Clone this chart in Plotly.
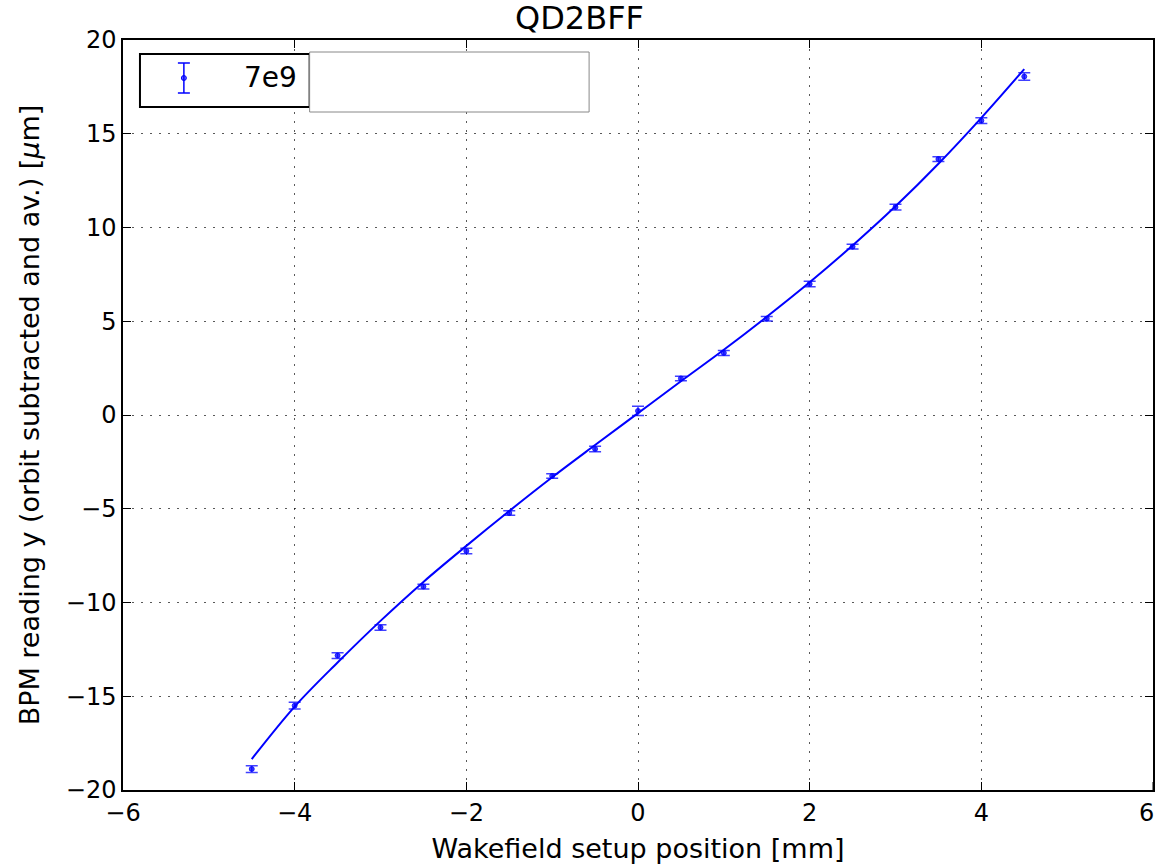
import plotly.graph_objects as go

# Measured BPM response vs. wakefield setup position
positions = [-4.5, -4.0, -3.5, -3.0, -2.5, -2.0, -1.5, -1.0, -0.5, 0.0,
             0.5, 1.0, 1.5, 2.0, 2.5, 3.0, 3.5, 4.0, 4.5]
bpm_y = [-18.88, -15.50, -12.83, -11.33, -9.15, -7.25, -5.23, -3.25, -1.81, 0.22,
         1.95, 3.31, 5.14, 6.99, 8.98, 11.09, 13.65, 15.70, 18.05]
bpm_err = [0.18, 0.18, 0.15, 0.15, 0.13, 0.15, 0.12, 0.12, 0.15, 0.25,
           0.12, 0.13, 0.12, 0.15, 0.13, 0.15, 0.13, 0.15, 0.2]

# Fitted curve sampled at the same positions
fit_x = positions
fit_y = [-18.35, -15.55, -13.2, -10.98, -8.9, -6.98, -5.12, -3.32, -1.6, 0.1,
         1.8, 3.48, 5.24, 7.08, 9.04, 11.13, 13.4, 15.85, 18.45]

x_ticks = [-6, -4, -2, 0, 2, 4, 6]
y_ticks = [-20, -15, -10, -5, 0, 5, 10, 15, 20]

legend_label = "7e9"
title = "QD2BFF"
x_title = "Wakefield setup position [mm]"
y_title = "BPM reading y (orbit subtracted and av.) [<i>μ</i>m]"

W, H = 1159, 865
L, R, T, B = 123, 4, 40, 75
pw, ph = W - L - R, H - T - B


def px(x):
    return (x - L) / pw


def py(y):
    return (H - B - y) / ph


fig = go.Figure()
fig.add_trace(go.Scatter(
    x=fit_x, y=fit_y, mode="lines", line=dict(color="#0000ff", width=2, shape="spline"),
    showlegend=False, hoverinfo="skip"))
fig.add_trace(go.Scatter(
    x=positions, y=bpm_y, mode="markers",
    marker=dict(color="rgba(0,0,255,0.75)", size=5, line=dict(color="rgba(0,0,255,0.75)", width=1)),
    error_y=dict(type="data", array=bpm_err, visible=True, color="rgba(0,0,255,0.75)",
                 thickness=1.5, width=6),
    showlegend=False))

font = "DejaVu Sans"
tick_size, label_size, title_size, legend_size = 24, 27, 32, 28
axis_common = dict(
    showline=True, linecolor="black", linewidth=1.5, mirror="ticks",
    ticks="inside", ticklen=8, tickcolor="black", tickwidth=1,
    showgrid=True, gridcolor="rgba(0,0,0,0.65)", griddash="2px,7px", gridwidth=1,
    zeroline=False, tickfont=dict(family=font, size=tick_size, color="black"),
)

# the rightmost x label sits on the canvas edge, so it is placed as an annotation
fig.update_xaxes(range=[-6, 6], tickvals=x_ticks[:-1],
                 title=dict(text=x_title, font=dict(family=font, size=label_size, color="black"), standoff=14),
                 **axis_common)
fig.update_yaxes(range=[-20, 20], tickvals=y_ticks,
                 title=dict(text=y_title, font=dict(family=font, size=label_size, color="black"), standoff=18),
                 **axis_common)

shapes = [
    # extra tick at the right end of the x axis
    dict(type="line", xref="x", yref="paper", x0=x_ticks[-1], x1=x_ticks[-1], y0=0, y1=py(782),
         line=dict(color="black", width=1)),
    # legend frame
    dict(type="rect", xref="paper", yref="paper", x0=px(140), x1=px(310), y0=py(107), y1=py(54),
         line=dict(color="black", width=2), fillcolor="white", layer="above"),
    # errorbar glyph
    dict(type="line", xref="paper", yref="paper", x0=px(184), x1=px(184), y0=py(93), y1=py(63),
         line=dict(color="#0000ff", width=1.5), layer="above"),
    dict(type="line", xref="paper", yref="paper", x0=px(178), x1=px(190), y0=py(63), y1=py(63),
         line=dict(color="#0000ff", width=1.5), layer="above"),
    dict(type="line", xref="paper", yref="paper", x0=px(178), x1=px(190), y0=py(93), y1=py(93),
         line=dict(color="#0000ff", width=1.5), layer="above"),
    dict(type="circle", xref="paper", yref="paper", x0=px(181.5), x1=px(186.5), y0=py(80.5), y1=py(75.5),
         line=dict(color="#0000ff", width=1), fillcolor="rgba(0,0,255,0.6)", layer="above"),
    # blank box beside the legend
    dict(type="rect", xref="paper", yref="paper", x0=px(310), x1=px(590), y0=py(112), y1=py(52),
         line=dict(color="#888888", width=1), fillcolor="white", layer="above"),
]

annotations = [
    dict(text=legend_label, xref="paper", yref="paper", x=px(299), y=py(78), xanchor="right", yanchor="middle",
         showarrow=False, font=dict(family=font, size=legend_size, color="black")),
    dict(text=str(x_ticks[-1]), xref="paper", yref="paper", x=px(1158), y=py(813), xanchor="right",
         yanchor="middle", showarrow=False, font=dict(family=font, size=tick_size, color="black")),
]

fig.update_layout(
    width=W, height=H,
    margin=dict(l=L, r=R, t=T, b=B),
    paper_bgcolor="white", plot_bgcolor="white",
    title=dict(text=title, x=px(639), xanchor="center", y=1 - 18 / H, yanchor="middle",
               font=dict(family=font, size=title_size, color="black")),
    shapes=shapes, annotations=annotations,
    showlegend=False,
)

fig.write_html("out.html")
